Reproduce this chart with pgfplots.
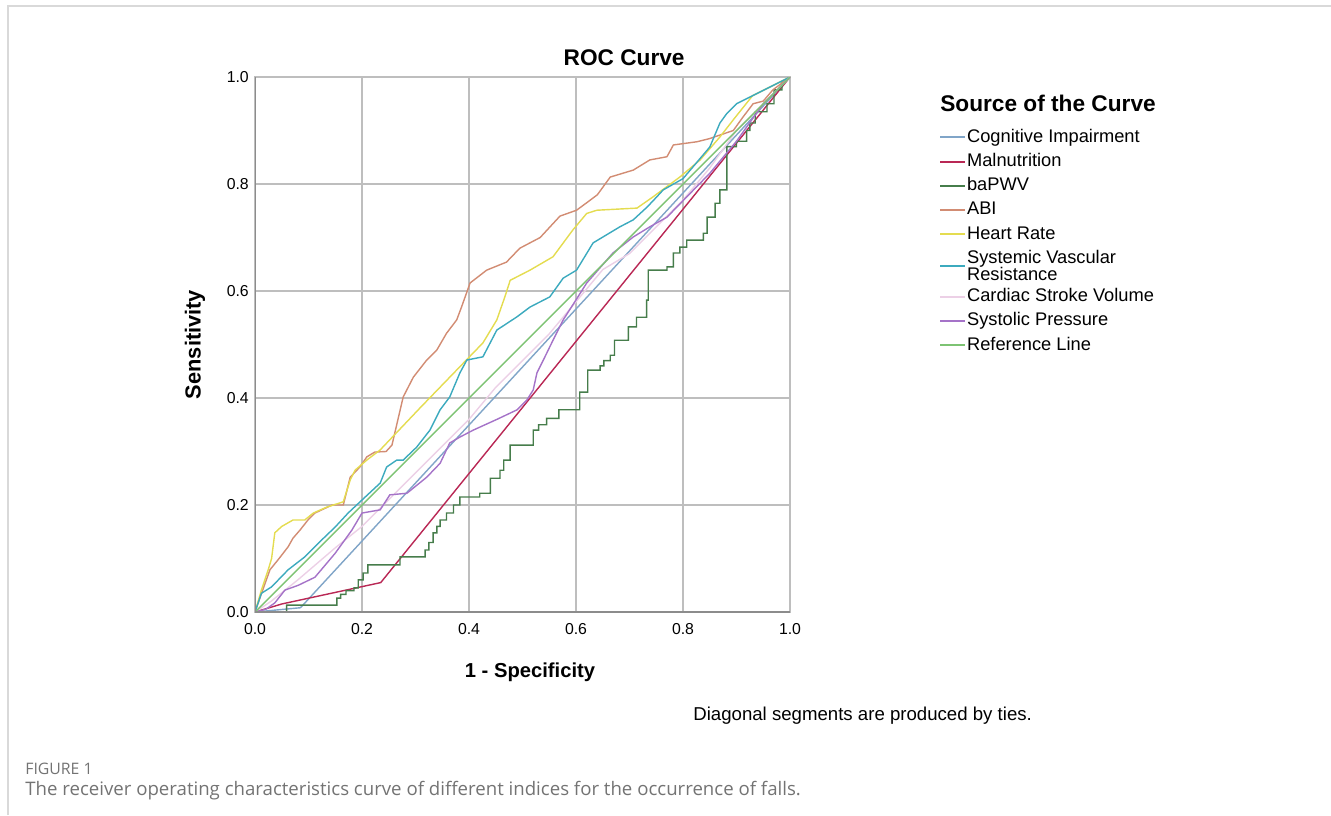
\documentclass[border=0pt]{standalone}
\usepackage{fontspec}
\setmainfont{Liberation Sans}
\newfontfamily\capfont{Open Sans}
\usepackage{pgfplots}
\pgfplotsset{compat=1.18}
\definecolor{cogcol}{RGB}{128,165,200}
\definecolor{malcol}{RGB}{185,40,85}
\definecolor{pwvcol}{RGB}{70,125,75}
\definecolor{abicol}{RGB}{210,140,115}
\definecolor{hrcol}{RGB}{228,220,80}
\definecolor{svrcol}{RGB}{60,170,190}
\definecolor{csvcol}{RGB}{236,208,230}
\definecolor{spcol}{RGB}{165,115,200}
\definecolor{refcol}{RGB}{125,195,115}
\definecolor{gridcol}{RGB}{190,190,190}

\begin{document}
\begin{tikzpicture}
\path[use as bounding box] (0,0) rectangle (266.2mm,-163mm);
\begin{axis}[
  at={(51mm,-122.4mm)}, anchor=south west,
  scale only axis, width=107mm, height=107mm,
  xmin=0, xmax=1, ymin=0, ymax=1,
  xtick={0,0.2,0.4,0.6,0.8,1}, ytick={0,0.2,0.4,0.6,0.8,1},
  grid=major, grid style={gridcol, line width=0.9pt},
  axis line style={gridcol, line width=0.9pt},
  major tick length=0pt,
  ticklabel style={font=\fontsize{9}{10}\selectfont},
  xticklabel style={yshift=-1mm},
  /pgf/number format/fixed, /pgf/number format/fixed zerofill,
  /pgf/number format/precision=1, /pgf/number format/assume math mode=true,
  every axis title shift=0pt,
  title={\bfseries ROC Curve},
  title style={at={(axis description cs:0.69,1.0355)}, anchor=center, font=\fontsize{12.9}{15}\selectfont},
  xlabel={\bfseries 1 - Specificity},
  xlabel style={at={(axis description cs:0.514,-0.112)}, anchor=center, font=\fontsize{11.5}{13}\selectfont},
  ylabel={\bfseries Sensitivity},
  ylabel style={at={(axis description cs:-0.112,0.5)}, anchor=center, font=\fontsize{12.4}{14}\selectfont},
  legend style={at={(axis description cs:1.278,0.906)}, anchor=north west, draw=none, fill=none,
    inner sep=0pt, font=\fontsize{10.4}{12}\selectfont, row sep=2.8pt,
    nodes={inner sep=0.6pt, text height=7.6pt, text depth=2.2pt}},
  legend cell align=left,
  legend image code/.code={\draw[#1, line width=1.1pt] (0mm,0mm) -- (5mm,0mm);},
  every axis plot/.append style={line width=0.8pt},
]
\addplot[cogcol] coordinates {(0,0) (0.085,0.008) (1,1)};
\addlegendentry{Cognitive Impairment}
\addplot[malcol] coordinates {(0,0) (0.05,0.015) (0.235,0.055) (1,1)};
\addlegendentry{Malnutrition}
\addplot[pwvcol] coordinates {
(0,0) (0.059,0) (0.059,0.013) (0.153,0.013) (0.153,0.026) (0.16,0.026) (0.16,0.033)
(0.17,0.033) (0.17,0.04) (0.185,0.04) (0.185,0.045) (0.193,0.045) (0.193,0.06)
(0.202,0.06) (0.202,0.073) (0.211,0.073) (0.211,0.088) (0.271,0.088) (0.271,0.103)
(0.318,0.103) (0.318,0.116) (0.325,0.116) (0.325,0.13) (0.333,0.13) (0.333,0.148)
(0.34,0.148) (0.34,0.16) (0.346,0.16) (0.346,0.172) (0.358,0.172) (0.358,0.185)
(0.371,0.185) (0.371,0.2) (0.383,0.2) (0.383,0.215) (0.42,0.215) (0.42,0.222)
(0.44,0.222) (0.44,0.25) (0.458,0.25) (0.458,0.265) (0.465,0.265) (0.465,0.284)
(0.477,0.284) (0.477,0.312) (0.52,0.312) (0.52,0.34) (0.53,0.34) (0.53,0.35)
(0.545,0.35) (0.545,0.362) (0.568,0.362) (0.568,0.378) (0.607,0.378) (0.607,0.411)
(0.622,0.411) (0.622,0.452) (0.645,0.452) (0.645,0.46) (0.652,0.46) (0.652,0.47)
(0.664,0.47) (0.664,0.48) (0.672,0.48) (0.672,0.508) (0.698,0.508) (0.698,0.533)
(0.713,0.533) (0.713,0.551) (0.732,0.551) (0.732,0.583) (0.735,0.583) (0.735,0.639)
(0.77,0.639) (0.77,0.645) (0.782,0.645) (0.782,0.671) (0.794,0.671) (0.794,0.682)
(0.807,0.682) (0.807,0.695) (0.838,0.695) (0.838,0.708) (0.845,0.708) (0.845,0.738)
(0.86,0.738) (0.86,0.764) (0.869,0.764) (0.869,0.789) (0.882,0.789) (0.882,0.87)
(0.9,0.87) (0.9,0.88) (0.919,0.88) (0.919,0.9) (0.925,0.9) (0.925,0.914)
(0.935,0.914) (0.935,0.935) (0.957,0.935) (0.957,0.95) (0.97,0.95) (0.97,0.976)
(0.985,0.976) (0.985,0.99) (1,1)};
\addlegendentry{baPWV}
\addplot[abicol] coordinates {
(0,0) (0.019,0.054) (0.028,0.079) (0.045,0.1) (0.062,0.122) (0.071,0.138) (0.084,0.153)
(0.099,0.172) (0.112,0.185) (0.144,0.2) (0.165,0.2) (0.178,0.252) (0.196,0.271)
(0.209,0.29) (0.224,0.299) (0.245,0.3) (0.256,0.312) (0.277,0.402) (0.296,0.439)
(0.321,0.471) (0.34,0.49) (0.358,0.521) (0.377,0.546) (0.386,0.57) (0.402,0.615)
(0.433,0.639) (0.47,0.654) (0.495,0.68) (0.533,0.7) (0.57,0.74) (0.601,0.751)
(0.62,0.765) (0.64,0.78) (0.664,0.813) (0.707,0.826) (0.738,0.845) (0.77,0.851)
(0.782,0.873) (0.826,0.879) (0.85,0.885) (0.894,0.9) (0.912,0.925) (0.931,0.95)
(0.95,0.955) (0.968,0.976) (1,1)};
\addlegendentry{ABI}
\addplot[hrcol] coordinates {
(0,0) (0.012,0.041) (0.025,0.08) (0.031,0.1) (0.037,0.148) (0.05,0.16) (0.071,0.172)
(0.093,0.172) (0.109,0.185) (0.134,0.196) (0.165,0.206) (0.178,0.247) (0.187,0.265)
(0.209,0.284) (0.234,0.303) (0.308,0.381) (0.426,0.503) (0.452,0.546) (0.467,0.589)
(0.477,0.62) (0.514,0.639) (0.557,0.664) (0.594,0.714) (0.62,0.745) (0.639,0.751)
(0.714,0.755) (0.744,0.776) (0.794,0.813) (0.832,0.845) (0.869,0.888) (0.894,0.92)
(0.93,0.965) (0.96,0.98) (1,1)};
\addlegendentry{Heart Rate}
\addplot[svrcol] coordinates {
(0,0) (0.012,0.035) (0.031,0.047) (0.062,0.079) (0.093,0.103) (0.125,0.135) (0.15,0.159)
(0.174,0.185) (0.206,0.215) (0.234,0.241) (0.246,0.271) (0.265,0.284) (0.277,0.284)
(0.302,0.308) (0.327,0.34) (0.346,0.378) (0.364,0.402) (0.383,0.447) (0.396,0.471)
(0.426,0.477) (0.452,0.527) (0.49,0.552) (0.514,0.57) (0.551,0.589) (0.576,0.624)
(0.601,0.639) (0.632,0.69) (0.682,0.72) (0.707,0.733) (0.733,0.757) (0.751,0.776)
(0.763,0.789) (0.8,0.81) (0.85,0.869) (0.869,0.914) (0.882,0.932) (0.9,0.95)
(0.93,0.965) (0.96,0.98) (0.98,0.99) (1,1)};
\addlegendentry[align=left, text height=, text depth=, font=\fontsize{10.4}{10.1}\selectfont]{Systemic Vascular\\Resistance}
\addplot[csvcol] coordinates {
(0,0) (0.03,0.02) (0.08,0.06) (0.15,0.12) (0.2,0.16) (0.25,0.21) (0.3,0.26) (0.35,0.31)
(0.4,0.36) (0.45,0.42) (0.5,0.47) (0.55,0.52) (0.6,0.58) (0.65,0.64) (0.7,0.67)
(0.75,0.72) (0.8,0.77) (0.85,0.83) (0.9,0.9) (0.95,0.95) (1,1)};
\addlegendentry{Cardiac Stroke Volume}
\addplot[spcol] coordinates {
(0,0) (0.02,0.005) (0.037,0.017) (0.056,0.041) (0.081,0.05) (0.112,0.065) (0.134,0.091)
(0.15,0.11) (0.168,0.135) (0.181,0.153) (0.2,0.185) (0.234,0.191) (0.252,0.219)
(0.284,0.222) (0.321,0.252) (0.346,0.278) (0.364,0.316) (0.383,0.327) (0.408,0.34)
(0.452,0.36) (0.49,0.378) (0.508,0.396) (0.52,0.415) (0.527,0.447) (0.539,0.471)
(0.557,0.508) (0.576,0.546) (0.601,0.585) (0.62,0.615) (0.669,0.671) (0.707,0.701)
(0.738,0.72) (0.77,0.738) (0.85,0.82) (0.9,0.88) (0.95,0.95) (1,1)};
\addlegendentry{Systolic Pressure}
\addplot[refcol] coordinates {(0,0) (1,1)};
\addlegendentry{Reference Line}
\draw[black!45, line width=1.1pt] (axis cs:0,1) -- (axis cs:0,0) -- (axis cs:1,0);
\end{axis}
\begin{scope}[x=0.2mm, y=-0.2mm]
\draw[black!15, line width=0.8pt] (8,815) -- (8,6) -- (1331,6);
\node[anchor=west, inner sep=0pt, font=\bfseries\fontsize{12.9}{15}\selectfont] at (940,103) {Source of the Curve};
\node[anchor=west, inner sep=0pt, font=\fontsize{10.6}{12}\selectfont] at (693,716) {Diagonal segments are produced by ties.};
\node[anchor=west, inner sep=0pt, text=black!55, font=\capfont\fontsize{9}{11}\selectfont] at (25,769) {FIGURE 1};
\node[anchor=west, inner sep=0pt, text=black!55, font=\capfont\fontsize{10.6}{12}\selectfont] at (25,791) {The receiver operating characteristics curve of different indices for the occurrence of falls.};
\end{scope}
\end{tikzpicture}
\end{document}
